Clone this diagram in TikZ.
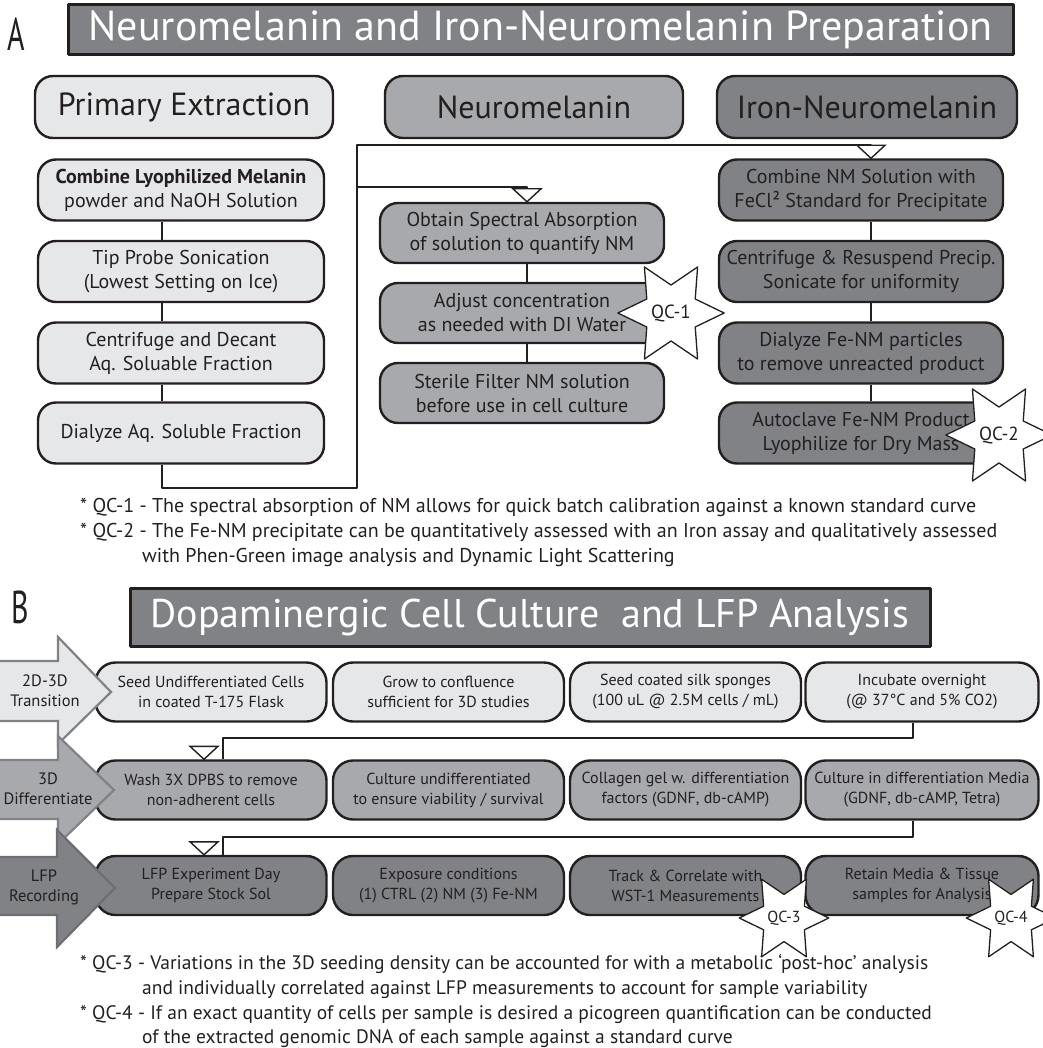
\documentclass[tikz,border=0pt]{standalone}
\usepackage{fontspec}
\setmainfont{PT Sans}
\usepackage{xcolor}
\usepackage{tikz}
\usetikzlibrary{shapes.geometric}

\definecolor{pale}{HTML}{E6E7E8}
\definecolor{midgray}{HTML}{A7A9AC}
\definecolor{darkgray}{HTML}{808285}
\definecolor{edgegray}{HTML}{6D6E71}
\definecolor{inkline}{HTML}{231F20}

\begin{document}
\begin{tikzpicture}[
    x=1pt,
    y=-1pt,
    line join=round,
    box/.style={draw=inkline, line width=2.4pt, rounded corners=18pt,
        align=center, inner sep=0pt, text=inkline},
    stepA/.style={box, minimum width=286pt, minimum height=61pt,
        font=\fontsize{20}{24}\selectfont},
    stepB/.style={box, minimum width=231pt, minimum height=59pt,
        rounded corners=20pt, font=\fontsize{16}{20}\selectfont},
    colhead/.style={box, minimum width=298pt, minimum height=62pt,
        font=\fontsize{32}{32}\selectfont},
    titlebar/.style={draw=inkline, fill=darkgray, line width=3pt,
        text=white, inner sep=0pt},
    panel/.style={inner sep=0pt, text=inkline, font=\fontsize{46}{46}\selectfont},
    qcstar/.style={star, star points=6, star point ratio=1.9,
        shape border rotate=30, draw=inkline, fill=white,
        line width=1.3pt, inner sep=0pt, text=inkline},
    link/.style={draw=inkline, line width=2.2pt},
    note/.style={anchor=base west, inner sep=0pt, text=inkline},
    tag/.style={align=center, inner sep=0pt, text=inkline,
        font=\fontsize{16.5}{20}\selectfont},
    drop/.pic={\filldraw[fill=white, draw=inkline, line width=1.4pt,
        line join=miter] (0,0) -- (-14,-13) -- (14,-13) -- cycle;}
]

\useasboundingbox (0,0) rectangle (1042,1048);

% ---------------- Panel A ----------------
\node[panel] (letA) at (16,34) {\scalebox{0.65}[1]{A}};
\node[titlebar, minimum width=945pt, minimum height=50pt,
    font=\fontsize{42}{42}\selectfont] (ttlA) at (540.5,30)
    {Neuromelanin and Iron-Neuromelanin Preparation};

% Intestazioni colonne
\node[colhead, fill=pale]     (hP) at (184,107) {Primary Extraction};
\node[colhead, fill=midgray]  (hN) at (534,107) {Neuromelanin};
\node[colhead, fill=darkgray, minimum width=300pt] (hI) at (867,107) {Iron-Neuromelanin};

% Estrazione primaria
\node[stepA, fill=pale] (p1) at (181,190) {\textbf{Combine Lyophilized Melanin}\\powder and NaOH Solution};
\node[stepA, fill=pale] (p2) at (181,271.5) {Tip Probe Sonication\\(Lowest Setting on Ice)};
\node[stepA, fill=pale] (p3) at (181,353) {Centrifuge and Decant\\Aq. Soluable Fraction};
\node[stepA, fill=pale] (p4) at (181,433) {Dialyze Aq. Soluble Fraction};

% Neuromelanina
\node[stepA, fill=midgray, minimum width=284pt, minimum height=60pt] (n1) at (522,233)
    {Obtain Spectral Absorption\\of solution to quantify NM};
\node[stepA, fill=midgray, minimum width=284pt, minimum height=60pt] (n2) at (522,313)
    {Adjust concentration\\as needed with DI Water};
\node[stepA, fill=midgray, minimum width=284pt, minimum height=60pt] (n3) at (522,393)
    {Sterile Filter NM solution\\before use in cell culture};

% Ferro-neuromelanina
\node[stepA, fill=darkgray, minimum width=284pt] (i1) at (861,190)
    {Combine NM Solution with\\FeCl² Standard for Precipitate};
\node[stepA, fill=darkgray, minimum width=284pt] (i2) at (861,271.5)
    {Centrifuge \& Resuspend Precip.\\Sonicate for uniformity};
\node[stepA, fill=darkgray, minimum width=284pt] (i3) at (861,353)
    {Dialyze Fe-NM particles\\to remove unreacted product};
\node[stepA, fill=darkgray, minimum width=284pt] (i4) at (861,433)
    {Autoclave Fe-NM Product\\Lyophilize for Dry Mass};

% Collegamenti
\coordinate (pcol) at (162,0);
\coordinate (ncol) at (527,0);
\coordinate (icol) at (871,0);
\coordinate (bend) at (357,488);
\coordinate (bus)  at (357,145);
\coordinate (tap)  at (357,187);

\foreach \a/\b in {p1/p2, p2/p3, p3/p4}
    \draw[link] (\a.south -| pcol) -- (\b.north -| pcol);
\foreach \a/\b in {n1/n2, n2/n3}
    \draw[link] (\a.south -| ncol) -- (\b.north -| ncol);
\foreach \a/\b in {i1/i2, i2/i3, i3/i4}
    \draw[link] (\a.south -| icol) -- (\b.north -| icol);

\draw[link] (p4.south -| pcol) |- (bend) -- (bus) -| (i1.north -| icol);
\draw[link] (tap) -| (n1.north -| ncol);
\pic at (i1.north -| icol) {drop};
\pic at (n1.north -| ncol) {drop};

% Controlli qualita'
\node[qcstar, minimum size=89pt, font=\fontsize{19}{19}\selectfont] (qc1) at (671,313) {QC-1};
\node[qcstar, minimum size=86pt, font=\fontsize{19}{19}\selectfont] (qc2) at (999,435) {QC-2};

% Note
\begin{scope}[font=\fontsize{20}{20}\selectfont]
\node[note] (fA1) at (80,512) {* QC-1 - The spectral absorption of NM allows for quick batch calibration against a known standard curve};
\node[note] (fA2) at (80,537) {* QC-2 - The Fe-NM precipitate can be quantitatively assessed with an Iron assay and qualitatively assessed};
\node[note] (fA3) at (142,562) {with Phen-Green image analysis and Dynamic Light Scattering};
\end{scope}

% ---------------- Panel B ----------------
\node[panel] (letB) at (20,607) {\scalebox{0.65}[1]{B}};
\node[titlebar, minimum width=800pt, minimum height=58pt,
    font=\fontsize{40}{40}\selectfont] (ttlB) at (530,617)
    {Dopaminergic Cell Culture \ and LFP Analysis};

% Riga 1
\node[stepB, fill=pale] (r11) at (211,692) {Seed Undifferentiated Cells\\in coated T-175 Flask};
\node[stepB, fill=pale] (r12) at (448.5,692) {Grow to confluence\\sufficient for 3D studies};
\node[stepB, fill=pale] (r13) at (685.5,692) {Seed coated silk sponges\\(100 uL @ 2.5M cells / mL)};
\node[stepB, fill=pale, minimum width=233pt] (r14) at (922,692) {Incubate overnight\\(@ 37°C and 5\% CO2)};

% Riga 2
\node[stepB, fill=midgray] (r21) at (211,790) {Wash 3X DPBS to remove\\non-adherent cells};
\node[stepB, fill=midgray] (r22) at (448.5,790) {Culture undifferentiated\\to ensure viability / survival};
\node[stepB, fill=midgray] (r23) at (685.5,790) {Collagen gel w. differentiation\\factors (GDNF, db-cAMP)};
\node[stepB, fill=midgray, minimum width=233pt] (r24) at (922,790) {Culture in differentiation Media\\(GDNF, db-cAMP, Tetra)};

% Riga 3
\node[stepB, fill=darkgray] (r31) at (211,885.5) {LFP Experiment Day\\Prepare Stock Sol};
\node[stepB, fill=darkgray] (r32) at (448.5,885.5) {Exposure conditions\\(1) CTRL (2) NM (3) Fe-NM};
\node[stepB, fill=darkgray] (r33) at (685.5,885.5) {Track \& Correlate with\\WST-1 Measurements};
\node[stepB, fill=darkgray, minimum width=233pt] (r34) at (922,885.5) {Retain Media \& Tissue\\samples for Analysis};

% Collegamenti tra righe
\coordinate (hop1) at (913,738);
\coordinate (hop2) at (913,837);
\coordinate (land) at (223,0);
\coordinate (tri)  at (204,0);
\draw[link] (r14.south -| hop1) -- (hop1) -| (r21.north -| land);
\draw[link] (r24.south -| hop2) -- (hop2) -| (r31.north -| land);
\pic at (r21.north -| tri) {drop};
\pic at (r31.north -| tri) {drop};

% Frecce di fase
\filldraw[fill=pale, draw=darkgray, line width=2.2pt, line join=miter]
    (-3,661) -- (58,661) -- (58,637) -- (111,692) -- (58,744) -- (58,721) -- (-3,721) -- cycle;
\filldraw[fill=midgray, draw=darkgray, line width=2.2pt, line join=miter]
    (-3,760) -- (58,760) -- (58,736) -- (114,790) -- (58,844) -- (58,819) -- (-3,819) -- cycle;
\filldraw[fill=darkgray, draw=edgegray, line width=2.2pt, line join=miter]
    (-3,857) -- (57,857) -- (57,830) -- (115,888) -- (57,947) -- (57,915) -- (-3,915) -- cycle;
\node[tag] (a1) at (45,691) {2D-3D\\Transition};
\node[tag] (a2) at (48,789) {3D\\Differentiate};
\node[tag] (a3) at (44,887) {LFP\\Recording};

% Controlli qualita'
\node[qcstar, minimum size=74pt, font=\fontsize{16}{16}\selectfont] (qc3) at (784,918) {QC-3};
\node[qcstar, minimum size=74pt, font=\fontsize{16}{16}\selectfont] (qc4) at (1011,918) {QC-4};

% Note
\begin{scope}[font=\fontsize{19.5}{19.5}\selectfont]
\node[note] (fB1) at (80,969) {* QC-3 - Variations in the 3D seeding density can be accounted for with a metabolic `post-hoc' analysis};
\node[note] (fB2) at (142,994) {and individually correlated against LFP measurements to account for sample variability};
\node[note] (fB3) at (80,1019) {* QC-4 - If an exact quantity of cells per sample is desired a picogreen quantification can be conducted};
\node[note] (fB4) at (142,1043) {of the extracted genomic DNA of each sample against a standard curve};
\end{scope}

\end{tikzpicture}
\end{document}
